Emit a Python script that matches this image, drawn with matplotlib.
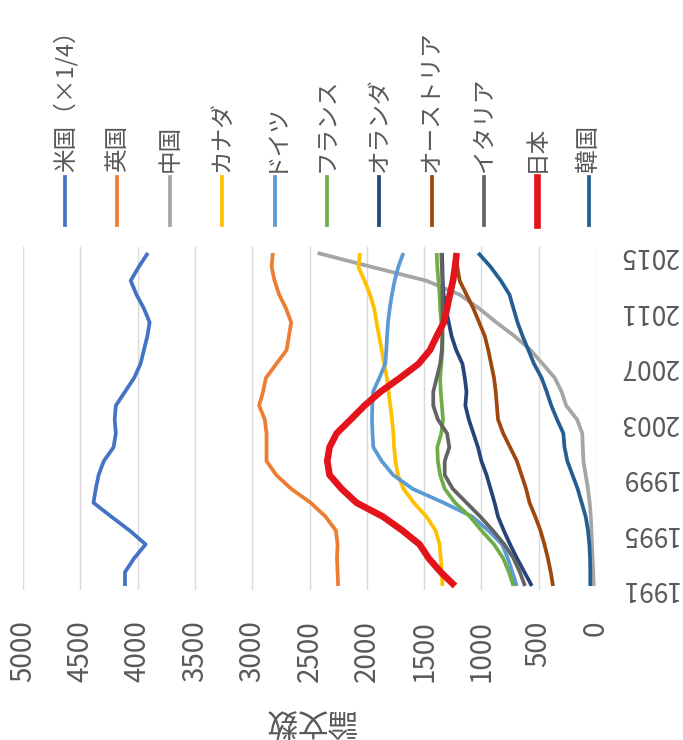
import matplotlib
matplotlib.use('Agg')
import matplotlib.pyplot as plt
from matplotlib.lines import Line2D

plt.rcParams['font.family'] = ['Noto Sans CJK JP', 'DejaVu Sans']

years = list(range(1991, 2016))

# 論文数 (米国は1/4にして表示)
us_q = [4110, 4110, 4030, 3930, 4070, 4230, 4385, 4365, 4340, 4295, 4210, 4190, 4200,
        4190, 4110, 4030, 3975, 3945, 3915, 3895, 3945, 4010, 4060, 3990, 3910]
uk = [2250, 2255, 2260, 2255, 2270, 2360, 2490, 2660, 2790, 2875, 2875, 2875, 2890,
      2940, 2905, 2880, 2790, 2700, 2680, 2660, 2705, 2765, 2805, 2830, 2820]
cn = [20, 25, 30, 35, 40, 45, 55, 70, 90, 110, 115, 120, 165,
      260, 300, 360, 465, 570, 710, 870, 1020, 1190, 1480, 1960, 2430]
ca = [1340, 1345, 1355, 1365, 1400, 1480, 1590, 1680, 1728, 1750, 1762, 1768, 1780,
      1795, 1810, 1825, 1848, 1870, 1893, 1915, 1935, 1972, 2020, 2074, 2059]
de = [692, 730, 770, 820, 940, 1080, 1330, 1600, 1770, 1870, 1943, 1950, 1955,
      1952, 1945, 1890, 1839, 1830, 1823, 1815, 1800, 1781, 1757, 1725, 1681]
fr = [720, 760, 810, 890, 1000, 1100, 1230, 1320, 1360, 1380, 1385, 1350, 1335,
      1345, 1355, 1360, 1350, 1340, 1340, 1350, 1360, 1365, 1375, 1385, 1390]
nl = [560, 625, 690, 750, 805, 855, 885, 920, 955, 1000, 1030, 1070, 1110,
      1140, 1130, 1145, 1165, 1220, 1260, 1285, 1310, 1330, 1338, 1340, 1344]
at = [375, 395, 420, 450, 485, 530, 580, 610, 650, 690, 750, 810, 855,
      865, 875, 890, 915, 940, 970, 1020, 1070, 1130, 1190, 1210, 1220]
it = [620, 665, 720, 800, 900, 1010, 1130, 1250, 1320, 1320, 1280, 1300, 1380,
      1420, 1420, 1390, 1360, 1345, 1340, 1340, 1340, 1340, 1340, 1345, 1350]
jp = [1230, 1355, 1460, 1540, 1690, 1860, 2090, 2220, 2325, 2345, 2325, 2263, 2140,
      2020, 1880, 1710, 1550, 1449, 1390, 1328, 1300, 1275, 1248, 1230, 1216]
kr = [50, 50, 52, 58, 70, 90, 125, 160, 205, 250, 275, 285, 340,
      390, 430, 475, 540, 590, 640, 685, 720, 755, 830, 920, 1027]

names = ['米国（×1/4）', '英国', '中国', 'カナダ', 'ドイツ', 'フランス', 'オランダ',
         'オーストリア', 'イタリア', '日本', '韓国']
series = [us_q, uk, cn, ca, de, fr, nl, at, it, jp, kr]
colors = ['#4472C4', '#ED7D31', '#A5A5A5', '#FFC000', '#5B9BD5', '#70AD47',
          '#264478', '#9E480E', '#636363', '#E3141B', '#255E91']
widths = [2.7] * 9 + [4.8, 2.7]

W, H = 683, 740
fig = plt.figure(figsize=(W / 100, H / 100), dpi=100)
ax = fig.add_axes([23 / W, 1 - 590 / H, 573 / W, 343 / H])

# 元のグラフを90度回した形: 横=論文数(右が0), 縦=年
for vals, c, lw in zip(series, colors, widths):
    ax.plot(vals, years, color=c, lw=lw, solid_capstyle='butt', solid_joinstyle='round')

ax.set_xlim(5000, 0)
ax.set_ylim(1990.71, 2015.43)
ax.set_xticks(range(0, 5001, 500))
ax.set_yticks(years[::4])
ax.yaxis.tick_right()
ax.tick_params(length=0, colors='#595959')
ax.tick_params(axis='x', labelsize=20, pad=22, labelrotation=90)
ax.tick_params(axis='y', labelsize=19, pad=17, labelrotation=180)
ax.grid(axis='x', color='#D9D9D9', lw=1)
ax.set_axisbelow(True)
for s in ax.spines.values():
    s.set_visible(False)

fig.text(310 / W, 1 - 721 / H, '論文数', rotation=180, ha='center', va='center',
         fontsize=22, color='#595959')

# 凡例 (上に横並び)
for i, (name, c, lw) in enumerate(zip(names, colors, widths)):
    x = (65 + i * 52.4) / W
    fig.add_artist(Line2D([x, x], [1 - 225 / H, 1 - 177 / H], color=c, lw=lw,
                          transform=fig.transFigure))
    fig.text(x, 1 - 172 / H, name, rotation=90, ha='center', va='bottom',
             fontsize=17, color='#595959')

fig.savefig('out.png', dpi=100)
